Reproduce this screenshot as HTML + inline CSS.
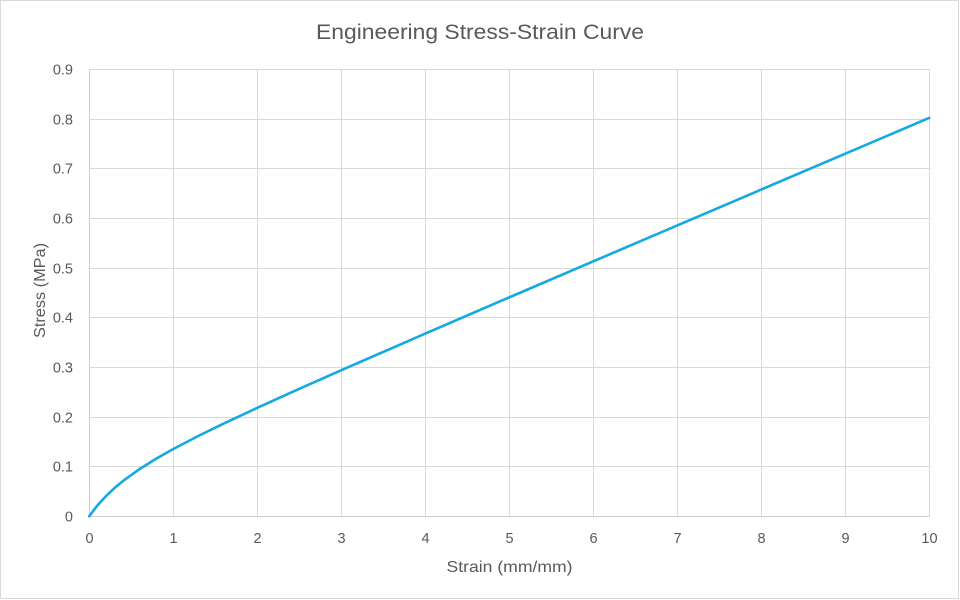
<!DOCTYPE html>
<html>
<head>
<meta charset="utf-8">
<style>
  html, body { margin: 0; padding: 0; background: #ffffff; }
  svg { display: block; }
  text { font-family: "Liberation Sans", "DejaVu Sans", sans-serif; fill: #595959; }
</style>
</head>
<body>
<svg width="960" height="600" viewBox="0 0 960 600" xmlns="http://www.w3.org/2000/svg">
  <rect x="0" y="0" width="960" height="600" fill="#ffffff"/>
  <rect x="0.5" y="0.5" width="958" height="598" fill="none" stroke="#d9d9d9" stroke-width="1"/>

  <!-- title -->
  <text x="480" y="39" font-size="21" text-anchor="middle" textLength="328" lengthAdjust="spacingAndGlyphs">Engineering Stress-Strain Curve</text>

  <!-- horizontal gridlines -->
  <g stroke="#d9d9d9" stroke-width="1">
    <line x1="89.5" y1="69.5" x2="929.5" y2="69.5"/>
    <line x1="89.5" y1="119.5" x2="929.5" y2="119.5"/>
    <line x1="89.5" y1="168.5" x2="929.5" y2="168.5"/>
    <line x1="89.5" y1="218.5" x2="929.5" y2="218.5"/>
    <line x1="89.5" y1="268.5" x2="929.5" y2="268.5"/>
    <line x1="89.5" y1="317.5" x2="929.5" y2="317.5"/>
    <line x1="89.5" y1="367.5" x2="929.5" y2="367.5"/>
    <line x1="89.5" y1="417.5" x2="929.5" y2="417.5"/>
    <line x1="89.5" y1="466.5" x2="929.5" y2="466.5"/>
    <line x1="89.5" y1="516.5" x2="929.5" y2="516.5"/>
  </g>
  <!-- vertical gridlines -->
  <g stroke="#d9d9d9" stroke-width="1">
    <line x1="89.5" y1="69.5" x2="89.5" y2="516.5"/>
    <line x1="173.5" y1="69.5" x2="173.5" y2="516.5"/>
    <line x1="257.5" y1="69.5" x2="257.5" y2="516.5"/>
    <line x1="341.5" y1="69.5" x2="341.5" y2="516.5"/>
    <line x1="425.5" y1="69.5" x2="425.5" y2="516.5"/>
    <line x1="509.5" y1="69.5" x2="509.5" y2="516.5"/>
    <line x1="593.5" y1="69.5" x2="593.5" y2="516.5"/>
    <line x1="677.5" y1="69.5" x2="677.5" y2="516.5"/>
    <line x1="761.5" y1="69.5" x2="761.5" y2="516.5"/>
    <line x1="845.5" y1="69.5" x2="845.5" y2="516.5"/>
    <line x1="929.5" y1="69.5" x2="929.5" y2="516.5"/>
  </g>
  <!-- axis lines slightly darker -->
  <g stroke="#cfcfcf" stroke-width="1">
    <line x1="89.5" y1="69.5" x2="89.5" y2="516.5"/>
    <line x1="89.5" y1="516.5" x2="929.5" y2="516.5"/>
  </g>

  <!-- y tick labels -->
  <g font-size="14.5" text-anchor="end">
    <text x="73" y="74.5">0.9</text>
    <text x="73" y="124.5">0.8</text>
    <text x="73" y="173.5">0.7</text>
    <text x="73" y="223.5">0.6</text>
    <text x="73" y="273.5">0.5</text>
    <text x="73" y="322.5">0.4</text>
    <text x="73" y="372.5">0.3</text>
    <text x="73" y="422.5">0.2</text>
    <text x="73" y="471.5">0.1</text>
    <text x="73" y="521.5">0</text>
  </g>

  <!-- x tick labels -->
  <g font-size="14.5" text-anchor="middle">
    <text x="89.5" y="543">0</text>
    <text x="173.5" y="543">1</text>
    <text x="257.5" y="543">2</text>
    <text x="341.5" y="543">3</text>
    <text x="425.5" y="543">4</text>
    <text x="509.5" y="543">5</text>
    <text x="593.5" y="543">6</text>
    <text x="677.5" y="543">7</text>
    <text x="761.5" y="543">8</text>
    <text x="845.5" y="543">9</text>
    <text x="929.5" y="543">10</text>
  </g>

  <!-- axis titles -->
  <text x="509.5" y="572" font-size="16" text-anchor="middle" textLength="126" lengthAdjust="spacingAndGlyphs">Strain (mm/mm)</text>
  <text transform="translate(45,290.5) rotate(-90)" x="0" y="0" font-size="16" text-anchor="middle" textLength="95" lengthAdjust="spacingAndGlyphs">Stress (MPa)</text>

  <!-- curve -->
  <polyline fill="none" stroke="#16a9e1" stroke-width="2.6" stroke-linejoin="round" stroke-linecap="round"
    points="89.3,516.3 91.0,513.89 93.5,510.46 97.7,505.18 106.1,495.96 114.5,488.05 122.9,481.07 139.7,468.99 156.5,458.52 173.3,449.02 198.5,435.88 223.7,423.55 257.3,407.82 299.3,388.81 341.3,370.21 425.3,333.60 509.3,297.38 593.3,261.35 677.3,225.41 761.3,189.52 845.3,153.67 929.3,117.85"/>
</svg>
</body>
</html>
